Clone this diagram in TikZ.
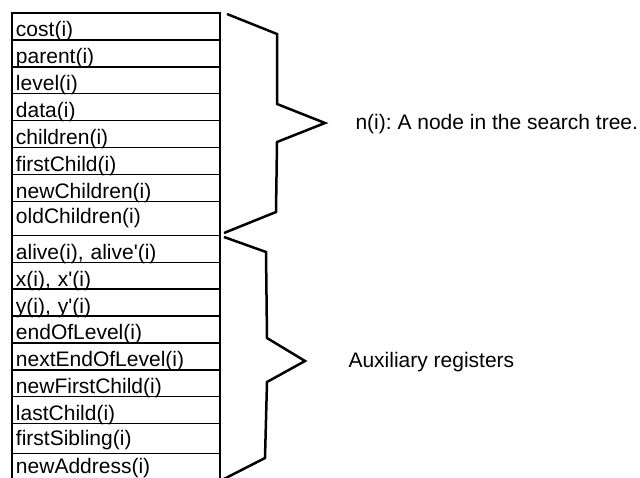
\documentclass[tikz,border=0pt]{standalone}
\usepackage{fontspec}
\setmainfont{Liberation Sans}
\usetikzlibrary{positioning}
\frenchspacing
\begin{document}
\begin{tikzpicture}
    [
        x=1pt,
        y=-1pt,
        register/.style={
                draw=black,
                line width=1.4pt,
                outer sep=0pt,
                inner xsep=4pt,
                inner ysep=0pt,
                text width=200pt,
                align=left,
                text height=#1,
                text depth=3pt,
                font=\fontsize{21}{23}\selectfont,
                anchor=north,
            },
        register/.default=23.9pt,
        brace/.style={
                line width=2.5pt,
                line join=miter,
            },
        note/.style={
                anchor=base west,
                font=\fontsize{21}{23}\selectfont,
            },
    ]
    \useasboundingbox (0,0) rectangle (640,477);

    % fields of one node n(i)
    \node [register, anchor=north west] (cost) at (12,13) {cost(i)};
    \node [register, below=0pt of cost] (parent) {parent(i)};
    \node [register, below=0pt of parent] (level) {level(i)};
    \node [register, below=0pt of level] (data) {data(i)};
    \node [register, below=0pt of data] (children) {children(i)};
    \node [register, below=0pt of children] (firstChild) {firstChild(i)};
    \node [register, below=0pt of firstChild] (newChildren) {newChildren(i)};
    \node [register=22pt, text depth=12pt, below=0pt of newChildren] (oldChildren) {oldChildren(i)};

    % auxiliary registers
    \node [register, below=0pt of oldChildren] (alive) {alive(i), alive\textquotesingle(i)};
    \node [register, below=0pt of alive] (xi) {x(i), x\textquotesingle(i)};
    \node [register, below=0pt of xi] (yi) {y(i), y\textquotesingle(i)};
    \node [register, below=0pt of yi] (endOfLevel) {endOfLevel(i)};
    \node [register, below=0pt of endOfLevel] (nextEndOfLevel) {nextEndOfLevel(i)};
    \node [register, below=0pt of nextEndOfLevel] (newFirstChild) {newFirstChild(i)};
    \node [register, below=0pt of newFirstChild] (lastChild) {lastChild(i)};
    \node [register=22pt, text depth=8pt, below=0pt of lastChild] (firstSibling) {firstSibling(i)};
    \node [register=20pt, text depth=8pt, below=0pt of firstSibling] (newAddress) {newAddress(i)};

    % braces
    \coordinate (tipNode) at (325,123);
    \coordinate (tipAux) at (305,361);
    \draw [brace] (227,14) -- (277,34) -- (277,104) -- (tipNode) -- (277,142) -- (276,212) -- (224,233);
    \draw [brace] (224,237) -- (266,252) -- (267,338) -- (tipAux) -- (267,382) -- (265,458) -- (218,482);

    % labels
    \node [note] (nodeNote) at (352,129) {n(i): A node in the search tree.};
    \node [note] (auxNote) at (345,367) {Auxiliary registers};
\end{tikzpicture}
\end{document}
